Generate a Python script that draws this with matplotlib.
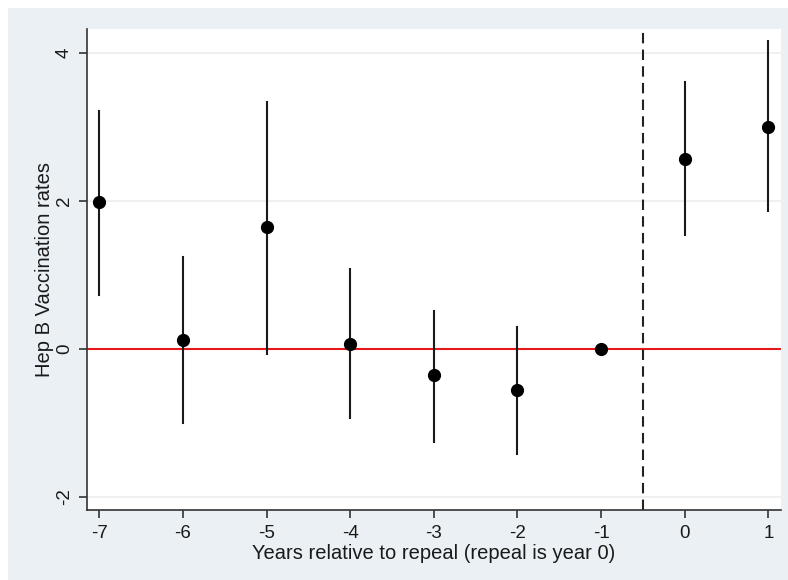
import matplotlib
matplotlib.use("Agg")
import matplotlib.pyplot as plt
from matplotlib.patches import Rectangle

plt.rcParams['font.family'] = ['Liberation Sans', 'DejaVu Sans']

years = [-7, -6, -5, -4, -3, -2, -1, 0, 1]
coef = [1.99, 0.12, 1.64, 0.07, -0.36, -0.56, 0.0, 2.57, 3.00]
ci_low = [0.73, -1.00, -0.07, -0.93, -1.26, -1.42, 0.0, 1.54, 1.86]
ci_high = [3.21, 1.24, 3.34, 1.08, 0.51, 0.30, 0.0, 3.61, 4.16]
y_ticks = [-2, 0, 2, 4]

fig = plt.figure(figsize=(7.88, 5.8), dpi=100)
fig.patch.set_facecolor('white')
# stata-like grey-blue background (screenshot has a thin white edge top/left)
fig.patches.append(Rectangle((8 / 788, 0), 1, (580 - 8) / 580,
                             transform=fig.transFigure, facecolor='#EAF0F3',
                             edgecolor='none', zorder=-1))

ax = fig.add_axes([0.110, 0.1207, 0.881, 0.829])
ax.set_facecolor('white')

for y in y_ticks:
    if y != 0:
        ax.axhline(y, color='#EEEEEE', lw=1.2, zorder=1)
ax.axhline(0, color='#E8191C', lw=1.5, zorder=2)
ax.axvline(-0.5, color='#222222', lw=1.5, ls=(0, (5, 3)), zorder=2)

for x, lo, hi in zip(years, ci_low, ci_high):
    if hi != lo:
        ax.plot([x, x], [lo, hi], color='#1a1a1a', lw=1.5, zorder=3)
ax.plot(years, coef, 'o', color='black', ms=8.5, zorder=4)

ax.set_xlim(-7.15, 1.15)
ax.set_ylim(-2.18, 4.32)
ax.set_xticks(years)
ax.set_xticklabels([str(y) for y in years])
ax.set_yticks(y_ticks)
ax.set_yticklabels([str(y) for y in y_ticks], rotation=90, va='center')

for s in ['top', 'right']:
    ax.spines[s].set_visible(False)
for s in ['left', 'bottom']:
    ax.spines[s].set_color('#333333')
    ax.spines[s].set_linewidth(1.2)
ax.tick_params(axis='both', direction='out', length=6, width=1.2,
               color='#333333', labelsize=13.5, labelcolor='#1a1a1a')
ax.tick_params(axis='x', pad=5)
ax.tick_params(axis='y', pad=4)

ax.set_xlabel('Years relative to repeal (repeal is year 0)', fontsize=14.5,
              color='#1a1a1a', labelpad=1)
ax.set_ylabel('Hep B Vaccination rates', fontsize=14.5, color='#1a1a1a',
              labelpad=1)

fig.savefig('out.png', dpi=100, facecolor=fig.get_facecolor())
